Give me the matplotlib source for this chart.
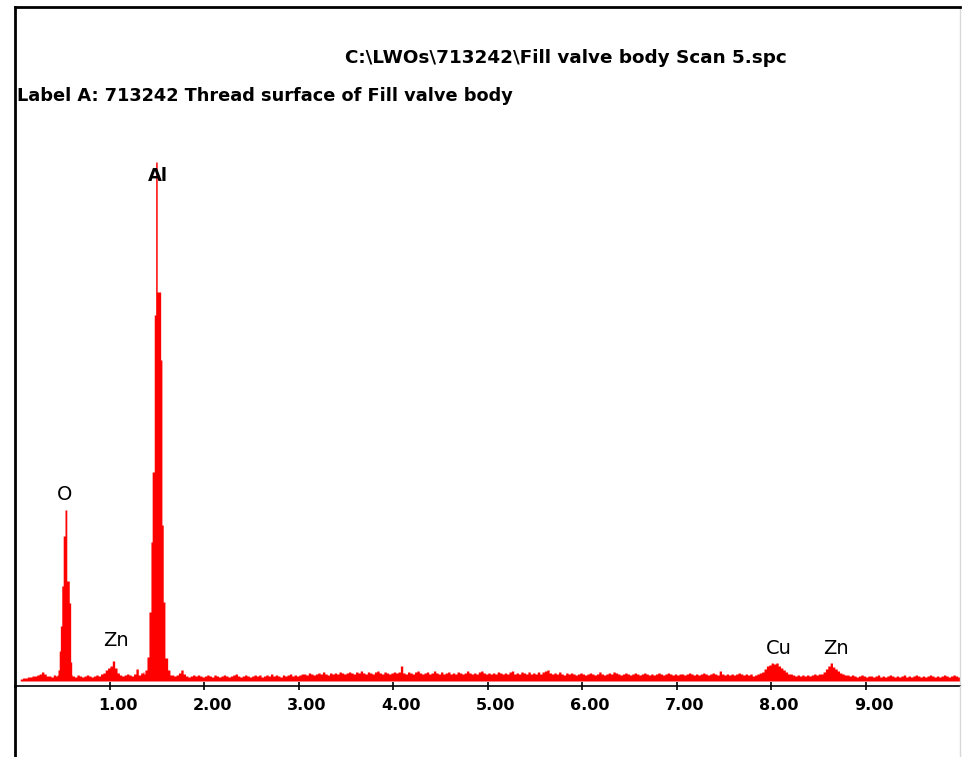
import numpy as np
import matplotlib
matplotlib.use("Agg")
import matplotlib.pyplot as plt
from matplotlib.lines import Line2D
from matplotlib.transforms import ScaledTranslation

# spectrum counts on a 0.025 keV grid starting at 0.05 keV
grid_start = 0.05
grid_step = 0.025
counts = [
    4, 6, 6, 8, 8, 10, 10, 12, 14, 18, 14, 10, 10, 8, 12, 10, 14, 14, 14, 14,
    14, 14, 10, 8, 12, 10, 8, 10, 12, 10, 8, 10, 12, 10, 14, 16, 22, 26, 30, 40,
    26, 16, 12, 10, 12, 14, 12, 10, 14, 24, 12, 16, 18, 20, 20, 20, 20, 20, 20, 20,
    20, 20, 20, 20, 12, 10, 12, 16, 22, 14, 10, 8, 10, 12, 10, 12, 10, 8, 10, 12,
    10, 8, 12, 10, 8, 10, 12, 10, 8, 10, 12, 14, 10, 8, 10, 12, 10, 8, 10, 12,
    10, 12, 8, 10, 12, 10, 14, 10, 12, 10, 8, 12, 10, 12, 14, 10, 12, 10, 12, 14,
    14, 12, 16, 14, 12, 14, 16, 14, 18, 14, 12, 16, 14, 16, 14, 18, 16, 14, 16, 18,
    16, 14, 18, 16, 20, 16, 14, 18, 16, 14, 18, 20, 16, 14, 18, 16, 14, 16, 18, 16,
    18, 30, 16, 14, 18, 16, 14, 18, 20, 16, 14, 16, 18, 14, 16, 20, 16, 14, 18, 14,
    16, 18, 14, 16, 14, 18, 16, 14, 16, 20, 16, 14, 16, 14, 18, 20, 16, 14, 16, 14,
    16, 14, 18, 16, 14, 16, 14, 18, 20, 14, 16, 14, 18, 16, 14, 18, 14, 16, 14, 18,
    14, 18, 20, 22, 16, 14, 16, 14, 18, 14, 12, 16, 14, 16, 14, 12, 14, 16, 14, 12,
    14, 16, 14, 12, 14, 18, 14, 12, 14, 16, 14, 18, 16, 14, 12, 14, 16, 14, 12, 14,
    16, 14, 12, 14, 16, 14, 12, 14, 12, 14, 16, 14, 12, 14, 16, 14, 12, 14, 12, 14,
    14, 12, 14, 16, 14, 12, 14, 12, 14, 16, 14, 12, 14, 16, 14, 12, 20, 14, 12, 14,
    12, 14, 12, 14, 16, 14, 12, 14, 12, 14, 10, 12, 14, 16, 18, 24, 30, 32, 36, 34,
    36, 30, 26, 22, 18, 14, 14, 12, 10, 12, 10, 12, 10, 12, 10, 12, 14, 12, 14, 14,
    18, 24, 30, 36, 28, 24, 20, 16, 14, 12, 12, 10, 12, 10, 8, 10, 12, 10, 8, 10,
    10, 8, 10, 12, 8, 10, 8, 10, 12, 10, 8, 10, 8, 10, 12, 8, 10, 8, 10, 12,
    10, 8, 10, 8, 10, 12, 10, 8, 10, 8, 10, 12, 10, 8, 10, 12, 10, 8, 10, 10,
]

# finer channels around the O and Al peaks
o_energy = [0.440, 0.450, 0.463, 0.475, 0.490, 0.505, 0.524, 0.543, 0.569, 0.584, 0.595]
o_counts = [12, 22, 60, 110, 190, 290, 342, 200, 156, 38, 12]
al_energy = [1.360, 1.370, 1.392, 1.413, 1.434, 1.447, 1.469, 1.484, 1.500, 1.537,
             1.550, 1.564, 1.582, 1.611, 1.635]
al_counts = [14, 22, 48, 138, 278, 418, 732, 1038, 778, 642, 312, 158, 46, 22, 12]

peak_labels = ["O", "Zn", "Al", "Cu", "Zn"]
label_x = [0.524, 1.063, 1.508, 8.079, 8.683]
label_y = [374, 82, 1010, 64, 64]
label_bold = [False, False, True, False, False]

tick_values = [1, 2, 3, 4, 5, 6, 7, 8, 9]
tick_labels = ["1.00", "2.00", "3.00", "4.00", "5.00", "6.00", "7.00", "8.00", "9.00"]

file_title = r"C:\LWOs\713242\Fill valve body Scan 5.spc"
label_title = "Label A: 713242 Thread surface of Fill valve body"

# merge the coarse grid with the fine peak channels
grid_energy = np.round(grid_start + grid_step * np.arange(len(counts)), 3)
grid_counts = np.array(counts, dtype=float)
keep = np.ones(len(grid_energy), dtype=bool)
for e in (o_energy, al_energy):
    keep &= ~((grid_energy >= e[0]) & (grid_energy <= e[-1]))
energy = np.concatenate([grid_energy[keep], o_energy, al_energy])
cts = np.concatenate([grid_counts[keep], o_counts, al_counts])
order = np.argsort(energy)
energy, cts = energy[order], cts[order]

W, H = 969, 757
fig = plt.figure(figsize=(W / 100, H / 100), dpi=100)
fig.patch.set_facecolor("white")
x0, x1 = 15.5 / W, 960 / W
y0, y1 = (H - 686) / H, (H - 7) / H
ax = fig.add_axes([x0, y0, x1 - x0, y1 - y0])

ax.fill_between(energy, cts, 0, step="post", color="#ff0000", linewidth=0)

ax.set_xlim(0, 10)
ax.set_ylim(-10, 1348)
ax.set_yticks([])
ax.set_xticks(tick_values)
ax.set_xticklabels(tick_labels, fontfamily="DejaVu Sans", fontweight="bold", fontsize=11.5)
ax.tick_params(axis="x", direction="inout", length=6, width=1.2, pad=6, color="black")
for lab in ax.get_xticklabels():
    lab.set_transform(lab.get_transform() + ScaledTranslation(8 / 100, 0, fig.dpi_scale_trans))

ax.spines["left"].set_linewidth(2)
ax.spines["top"].set_linewidth(2)
ax.spines["bottom"].set_linewidth(1.2)
ax.spines["right"].set_color("#d8d8d8")
ax.spines["right"].set_linewidth(1)

# frame continues below the energy axis
fig.add_artist(Line2D([x0, x0], [0, y0], transform=fig.transFigure, color="black", lw=2))
fig.add_artist(Line2D([x1, x1], [0, y0], transform=fig.transFigure, color="#d8d8d8", lw=1))

for name, lx, ly, b in zip(peak_labels, label_x, label_y, label_bold):
    ax.text(lx, ly, name, ha="center", va="center",
            fontsize=13 if b else 14, fontfamily="DejaVu Sans",
            fontweight="bold" if b else "normal")

fig.text(566 / W, 1 - 58 / H, file_title, ha="center", va="center", fontsize=13.2,
         fontfamily="DejaVu Sans", fontweight="bold")
fig.text(17 / W, 1 - 96 / H, label_title, ha="left", va="center", fontsize=12.8,
         fontfamily="DejaVu Sans", fontweight="bold")

fig.savefig("out.png", dpi=100, facecolor="white")
